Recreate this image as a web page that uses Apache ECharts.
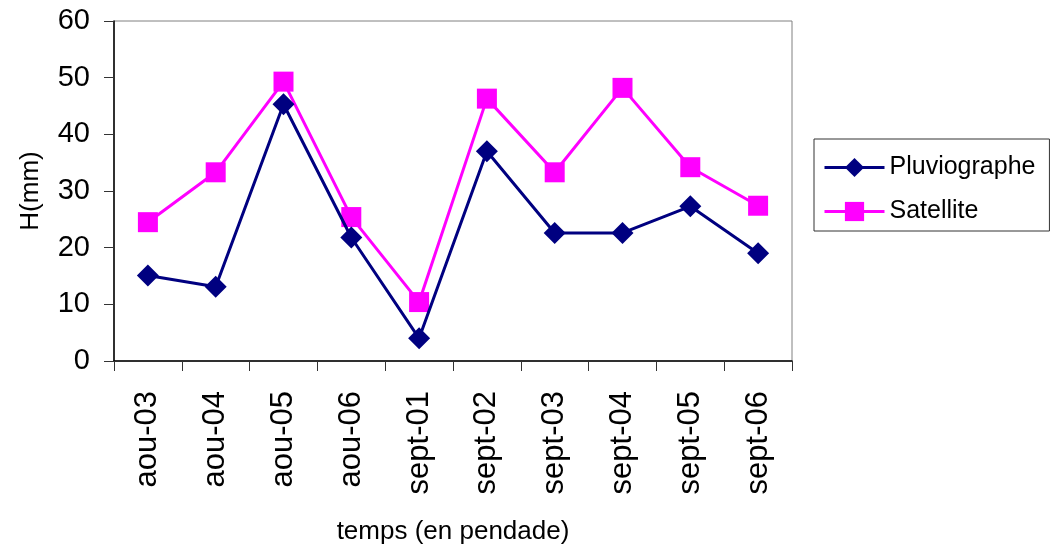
<!DOCTYPE html>
<html>
<head>
<meta charset="utf-8">
<script src="https://cdn.jsdelivr.net/npm/echarts@6/dist/echarts.min.js"></script>
<style>
  html, body { margin: 0; padding: 0; background: #fff; }
  #chart { width: 1058px; height: 552px; }
</style>
</head>
<body>
<div id="chart"></div>
<script>
const categories = ["aou-03", "aou-04", "aou-05", "aou-06", "sept-01", "sept-02", "sept-03", "sept-04", "sept-05", "sept-06"];
const pluviographe = [15.1, 13.1, 45.3, 21.8, 4.0, 37.0, 22.6, 22.6, 27.3, 19.0];
const satellite = [24.5, 33.3, 49.3, 25.4, 10.4, 46.3, 33.3, 48.2, 34.2, 27.4];
const yTicks = [0, 10, 20, 30, 40, 50, 60];

const font = "'Liberation Sans', Arial, sans-serif";
const chart = echarts.init(document.getElementById("chart"));

const option = {
  animation: false,
  backgroundColor: "#fff",
  grid: {
    left: 114,
    top: 21,
    right: 266,
    bottom: 191,
    show: true,
    borderColor: "#808080",
    borderWidth: 1
  },
  legend: {
    orient: "vertical",
    left: 814,
    top: 139,
    padding: [16, 14, 7, 9],
    itemGap: 19,
    itemWidth: 60,
    itemHeight: 24,
    borderColor: "#333",
    borderWidth: 1,
    lineStyle: { width: 3 },
    textStyle: { fontFamily: font, fontSize: 25, color: "#000" },
    data: ["Pluviographe", "Satellite"]
  },
  xAxis: {
    type: "category",
    data: categories,
    boundaryGap: true,
    name: "temps (en pendade)",
    nameLocation: "middle",
    nameGap: 158,
    nameTextStyle: { fontFamily: font, fontSize: 26, color: "#000" },
    axisLine: { show: true, lineStyle: { color: "#000", width: 1.5 } },
    axisTick: { show: true, length: 10, alignWithLabel: false, lineStyle: { color: "#333" } },
    axisLabel: { rotate: 90, margin: 30, fontFamily: font, fontSize: 31, color: "#000" },
    splitLine: { show: false }
  },
  yAxis: {
    type: "value",
    min: yTicks[0],
    max: yTicks[yTicks.length - 1],
    interval: 10,
    name: "H(mm)",
    nameLocation: "middle",
    nameGap: 70,
    nameRotate: 90,
    nameTextStyle: { fontFamily: font, fontSize: 26, color: "#000" },
    axisLine: { show: true, lineStyle: { color: "#000", width: 1.5 } },
    axisTick: { show: true, inside: false, length: 10, lineStyle: { color: "#333" } },
    axisLabel: { margin: 24, fontFamily: font, fontSize: 29, color: "#000" },
    splitLine: { show: false }
  },
  series: [
    {
      name: "Pluviographe",
      type: "line",
      data: pluviographe,
      symbol: "diamond",
      symbolSize: 22,
      lineStyle: { color: "#000080", width: 3 },
      itemStyle: { color: "#000080" },
      z: 3
    },
    {
      name: "Satellite",
      type: "line",
      data: satellite,
      symbol: "rect",
      symbolSize: 20,
      lineStyle: { color: "#ff00ff", width: 3 },
      itemStyle: { color: "#ff00ff" },
      z: 2
    }
  ]
};

chart.setOption(option);
</script>
</body>
</html>
